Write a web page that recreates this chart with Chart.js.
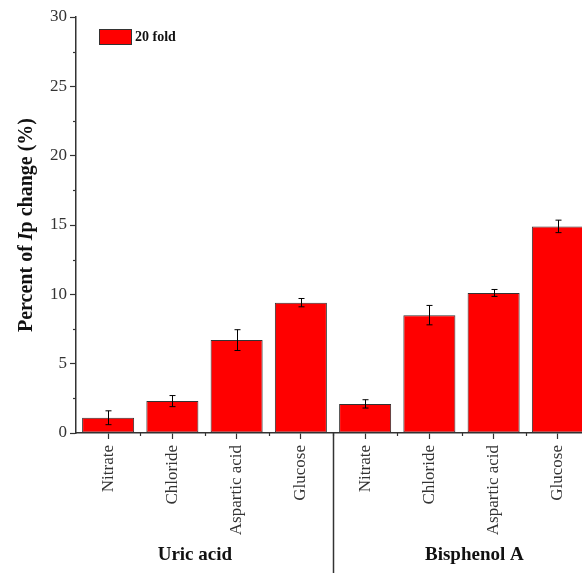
<!DOCTYPE html>
<html>
<head>
<meta charset="utf-8">
<script src="https://cdn.jsdelivr.net/npm/chart.js@4"></script>
<style>
  html, body { margin: 0; padding: 0; background: #fff; overflow: hidden; }
  #wrap { width: 590px; height: 573px; }
</style>
</head>
<body>
<div id="wrap"><canvas id="chart" width="590" height="573"></canvas></div>
<script>
// ---------------------------------------------------------------------------
// Data
// ---------------------------------------------------------------------------

const categories = ["Nitrate", "Chloride", "Aspartic acid", "Glucose",
                    "Nitrate", "Chloride", "Aspartic acid", "Glucose"];
const groups = ["Uric acid", "Bisphenol A"];
const seriesLabel = "20 fold";
const values = [1.1, 2.3, 6.7, 9.4, 2.1, 8.5, 10.1, 14.9];
const errors = [0.5, 0.4, 0.75, 0.3, 0.3, 0.7, 0.25, 0.45];
const yMin = 0, yMax = 30, yStep = 5;

const FONT = "'Liberation Serif', 'Times New Roman', serif";
const INK = "#333";

// ---------------------------------------------------------------------------
// Extra drawing: error bars, minor ticks, group labels, title, legend
// ---------------------------------------------------------------------------

const extras = {
    id: "extras",
    afterDatasetsDraw(chart) {
        const c = chart.ctx, x = chart.scales.x, y = chart.scales.y;
        c.save();
        c.strokeStyle = "#000";
        c.lineWidth = 1;
        values.forEach((v, i) => {
            const px = Math.round(x.getPixelForValue(i)) + 0.5;
            const top = y.getPixelForValue(v + errors[i]);
            const bot = y.getPixelForValue(v - errors[i]);
            c.beginPath();
            c.moveTo(px, top); c.lineTo(px, bot);
            c.moveTo(px - 3, top); c.lineTo(px + 3, top);
            c.moveTo(px - 3, bot); c.lineTo(px + 3, bot);
            c.stroke();
        });
        c.restore();
    },
    afterDraw(chart) {
        const c = chart.ctx, x = chart.scales.x, y = chart.scales.y;
        const area = chart.chartArea;
        c.save();
        c.strokeStyle = INK;
        c.lineWidth = 1.2;

        // minor ticks on y
        for (let v = yMin + yStep / 2; v < yMax; v += yStep) {
            const py = Math.round(y.getPixelForValue(v)) + 0.5;
            c.beginPath(); c.moveTo(area.left - 3, py); c.lineTo(area.left, py); c.stroke();
        }
        // minor ticks on x, between categories
        for (let i = 0; i < categories.length; i++) {
            const px = Math.round(x.getPixelForValue(i + 0.5)) + 0.5;
            c.beginPath(); c.moveTo(px, area.bottom); c.lineTo(px, area.bottom + 3); c.stroke();
        }
        // divider between the two groups
        const dx = Math.round(x.getPixelForValue(3.5)) + 0.5;
        c.lineWidth = 1.5;
        c.beginPath(); c.moveTo(dx, area.bottom); c.lineTo(dx, chart.height); c.stroke();

        // group labels
        c.fillStyle = "#111";
        c.font = "bold 19px " + FONT;
        c.textAlign = "center";
        c.textBaseline = "middle";
        c.fillText(groups[0], x.getPixelForValue(1.35), 555);
        c.fillText(groups[1], x.getPixelForValue(5.7), 555);

        // y title, with italic I
        const parts = [
            ["Percent of ", "bold 20px " + FONT],
            ["I", "italic bold 20px " + FONT],
            ["p change (%)", "bold 20px " + FONT],
        ];
        let total = 0;
        parts.forEach((p) => { c.font = p[1]; total += c.measureText(p[0]).width; });
        c.translate(27, (area.top + area.bottom) / 2);
        c.rotate(-Math.PI / 2);
        c.textAlign = "left";
        let tx = -total / 2;
        parts.forEach((p) => {
            c.font = p[1];
            c.fillText(p[0], tx, 0);
            tx += c.measureText(p[0]).width;
        });
        c.setTransform(1, 0, 0, 1, 0, 0);

        // legend
        const ds = chart.data.datasets[0];
        c.fillStyle = ds.backgroundColor;
        c.fillRect(99, 29, 32, 15);
        c.strokeStyle = INK;
        c.lineWidth = 1;
        c.strokeRect(99.5, 29.5, 32, 15);
        c.fillStyle = "#111";
        c.font = "bold 14px " + FONT;
        c.textAlign = "left";
        c.fillText(ds.label, 135, 37);
        c.restore();
    },
};

// ---------------------------------------------------------------------------
// Chart
// ---------------------------------------------------------------------------

new Chart(document.getElementById("chart").getContext("2d"), {
    type: "bar",
    data: {
        labels: categories,
        datasets: [{
            label: seriesLabel,
            data: values,
            backgroundColor: "#ff0000",
            borderColor: INK,
            borderWidth: 1,
            borderSkipped: false,
            barPercentage: 0.81,
            categoryPercentage: 1,
        }],
    },
    options: {
        responsive: false,
        animation: false,
        layout: { padding: { top: 17, left: 0, right: 0, bottom: 0 } },
        plugins: { legend: { display: false }, tooltip: { enabled: false } },
        scales: {
            x: {
                offset: true,
                grid: { drawOnChartArea: false, offset: false, tickLength: 6, tickColor: INK, tickWidth: 1.2 },
                border: { display: true, color: INK, width: 1.5 },
                ticks: { minRotation: 90, maxRotation: 90, padding: 6, color: INK, font: { family: FONT, size: 17 } },
                afterFit: (s) => { s.height = 140; },
            },
            y: {
                min: yMin,
                max: yMax,
                ticks: { stepSize: yStep, padding: 3, color: INK, font: { family: FONT, size: 17 } },
                grid: { drawOnChartArea: false, tickLength: 6, tickColor: INK, tickWidth: 1.2 },
                border: { display: true, color: INK, width: 1.5 },
                afterFit: (s) => { s.width = 76; },
            },
        },
    },
    plugins: [extras],
});
</script>
</body>
</html>
